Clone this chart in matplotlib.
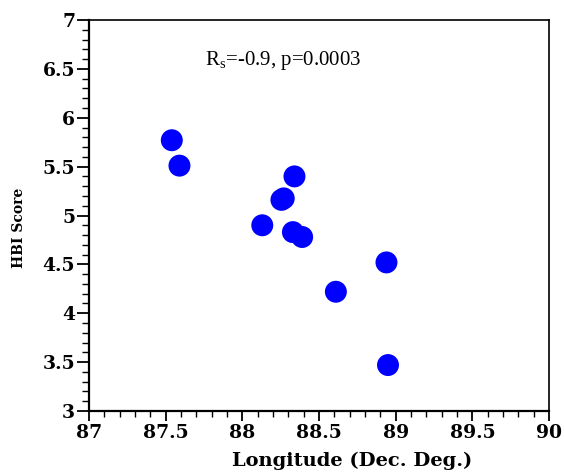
import matplotlib
matplotlib.use("Agg")
import matplotlib.pyplot as plt
from matplotlib.ticker import MultipleLocator

longitude = [87.54, 87.59, 88.34, 88.255, 88.27, 88.13, 88.33, 88.39, 88.94, 88.61, 88.95]
hbi_score = [5.77, 5.51, 5.40, 5.16, 5.175, 4.90, 4.83, 4.78, 4.52, 4.22, 3.47]
xticks = [87, 87.5, 88, 88.5, 89, 89.5, 90]
yticks = [3, 3.5, 4, 4.5, 5, 5.5, 6, 6.5, 7]
xtick_labels = ["87", "87.5", "88", "88.5", "89", "89.5", "90"]
ytick_labels = ["3", "3.5", "4", "4.5", "5", "5.5", "6", "6.5", "7"]

fig = plt.figure(figsize=(5.64, 4.73), dpi=100)
ax = fig.add_axes([89/564, 62/473, 460/564, 391/473])
ax.scatter(longitude, hbi_score, s=250, color="#0000ff", edgecolors="none", zorder=3)

ax.set_xlim(87, 90)
ax.set_ylim(3, 7)
ax.set_xticks(xticks)
ax.set_xticklabels(xtick_labels)
ax.set_yticks(yticks)
ax.set_yticklabels(ytick_labels)
ax.xaxis.set_minor_locator(MultipleLocator(0.1))
ax.yaxis.set_minor_locator(MultipleLocator(0.1))

for lab in ax.get_xticklabels() + ax.get_yticklabels():
    lab.set_fontfamily("DejaVu Serif")
    lab.set_fontweight("bold")
    lab.set_fontsize(13.5)

ax.tick_params(axis="y", which="major", direction="out", length=9, width=1.3, pad=1)
ax.tick_params(axis="y", which="minor", direction="out", length=5, width=1.0)
ax.tick_params(axis="x", which="major", direction="out", length=7, width=1.3, pad=2)
ax.tick_params(axis="x", which="minor", direction="out", length=4.5, width=1.0)

for side in ["left", "bottom"]:
    ax.spines[side].set_linewidth(1.6)
for side in ["top", "right"]:
    ax.spines[side].set_linewidth(1.2)

ax.set_xlabel("Longitude (Dec. Deg.)", fontfamily="DejaVu Serif", fontweight="bold", fontsize=14)
ax.xaxis.set_label_coords(0.572, -0.105)
ax.set_ylabel("HBI Score", fontfamily="DejaVu Serif", fontweight="bold", fontsize=10)
ax.yaxis.set_label_coords(-0.138, 0.468)

ax.text(87.755, 6.59, r"R$_\mathregular{s}$=-0.9, p=0.0003", fontfamily="Liberation Serif", fontsize=15, va="center", ha="left")

fig.savefig("out.png", dpi=100)
